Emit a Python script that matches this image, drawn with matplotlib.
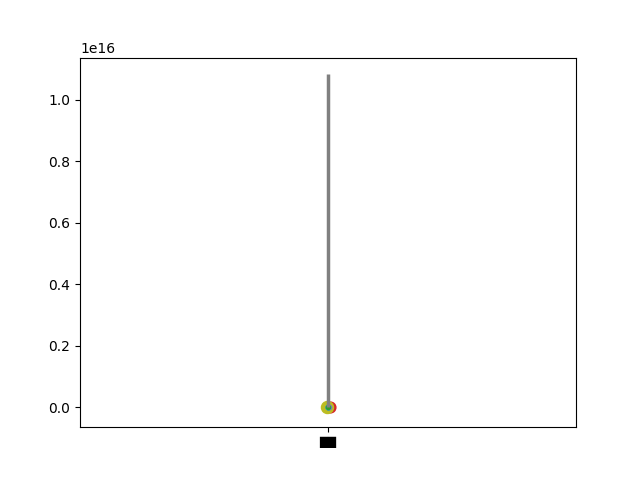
import matplotlib
matplotlib.use('Agg')
import matplotlib.pyplot as plt
import numpy as np

# one category, a tall range line and a cluster of points near zero
categories = ['\u2588\u2588']
range_low = [0.0]
range_high = [1.085e16]
point_offsets = [-0.004, 0.008, 0.0, 0.003, -0.002, 0.001]
point_values = [0.0, 0.0, 0.0, 0.0, 0.0, 0.0]
point_colors = ['tab:olive', 'tab:red', 'tab:blue', 'tab:purple', 'tab:cyan', 'tab:green']
point_sizes = [75, 60, 12, 10, 10, 8]

fig, ax = plt.subplots(figsize=(6.4, 4.8), dpi=100)

x = np.arange(len(categories))
ax.vlines(x, range_low, range_high, color='gray', lw=2.5, zorder=3)
# red first, olive above it, small points on top
order = [1, 0, 2, 3, 4, 5]
for i in order:
    ax.scatter(x[0] + point_offsets[i], point_values[i], s=point_sizes[i],
               color=point_colors[i], zorder=2)

ax.set_xticks(x)
ax.set_xticklabels(categories, fontsize=8)
ax.set_xlim(-1, 1)
ax.set_ylim(-0.065e16, 1.137e16)

plt.savefig('out.png', dpi=100)
